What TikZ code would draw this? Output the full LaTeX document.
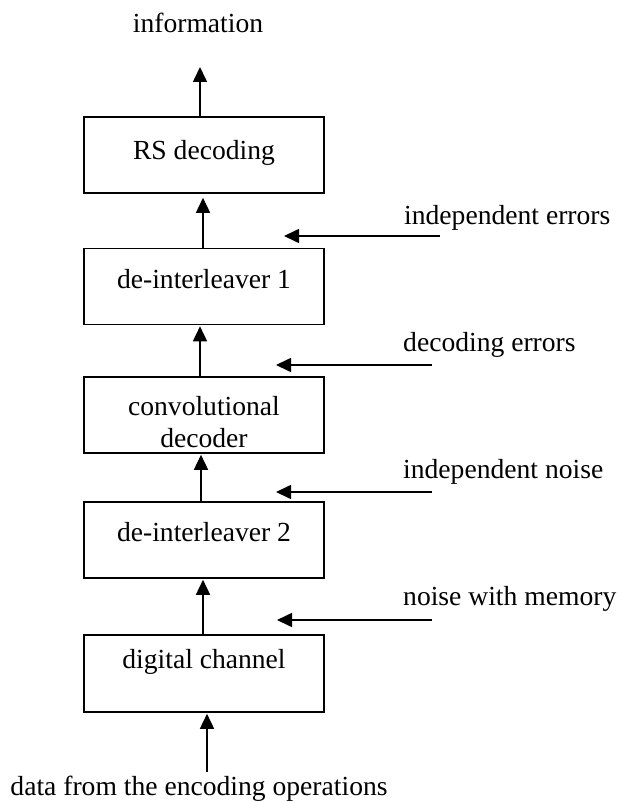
\documentclass[tikz,border=0pt]{standalone}
\usepackage{fontspec}
\setmainfont{Liberation Serif}
\usetikzlibrary{arrows.meta}
\begin{document}
\begin{tikzpicture}[x=1pt,y=-1pt,
  every node/.style={font=\fontsize{27.6pt}{32pt}\selectfont},
  box/.style={draw, line width=1.6pt, minimum width=240pt, minimum height=76pt, inner sep=0pt, align=center},
  lbl/.style={inner sep=0pt, anchor=base west},
  arr/.style={line width=1.6pt, -{Triangle[length=15pt,width=14pt]}}
]
\useasboundingbox (0,0) rectangle (619,802);

% boxes
\node[box, text height=20pt, text depth=10pt] (rs) at (204,155) {RS decoding};
\node[box, text height=20pt, text depth=17pt] (di1) at (204,286.5) {de-interleaver 1};
\node[box] (cd) at (204,415) {\rule{0pt}{32.3pt}convolutional\\decoder};
\node[box, text height=20pt, text depth=18pt] (di2) at (204,540) {de-interleaver 2};
\node[box, text height=20pt, text depth=31pt, minimum height=77pt] (dc) at (204,673.5) {digital channel};

% top and bottom labels
\node[inner sep=0pt, anchor=base] (info) at (198,33) {information};
\node[inner sep=0pt, anchor=base] (data) at (199,795) {data from the encoding operations};

% vertical arrows
\coordinate (out) at (200,67);
\coordinate (inp) at (207,772);
\draw[arr] (rs.north -| out) -- (out);
\draw[arr, shorten >=4pt] ([xshift=-1pt]di1.north) -- ([xshift=-1pt]rs.south);
\draw[arr, shorten >=1pt] ([xshift=-4pt]cd.north) -- ([xshift=-4pt]di1.south);
\draw[arr, shorten >=1pt] ([xshift=-3pt]di2.north) -- ([xshift=-3pt]cd.south);
\draw[arr, shorten >=1pt] ([xshift=-1pt]dc.north) -- ([xshift=-1pt]di2.south);
\draw[arr, shorten >=1pt] (inp) -- (dc.south -| inp);

% side arrows
\coordinate (e1s) at (440,236); \coordinate (e1t) at (284,236);
\coordinate (e2s) at (432,365); \coordinate (e2t) at (276,365);
\coordinate (e3s) at (432,492); \coordinate (e3t) at (276,492);
\coordinate (e4s) at (432,620); \coordinate (e4t) at (277,620);
\draw[arr] (e1s) -- (e1t);
\draw[arr] (e2s) -- (e2t);
\draw[arr] (e3s) -- (e3t);
\draw[arr] (e4s) -- (e4t);

% side labels
\node[lbl] (l1) at (404,225) {independent errors};
\node[lbl] (l2) at (403,351) {decoding errors};
\node[lbl] (l3) at (403,478) {independent noise};
\node[lbl] (l4) at (403,605) {noise with memory};
\end{tikzpicture}
\end{document}
